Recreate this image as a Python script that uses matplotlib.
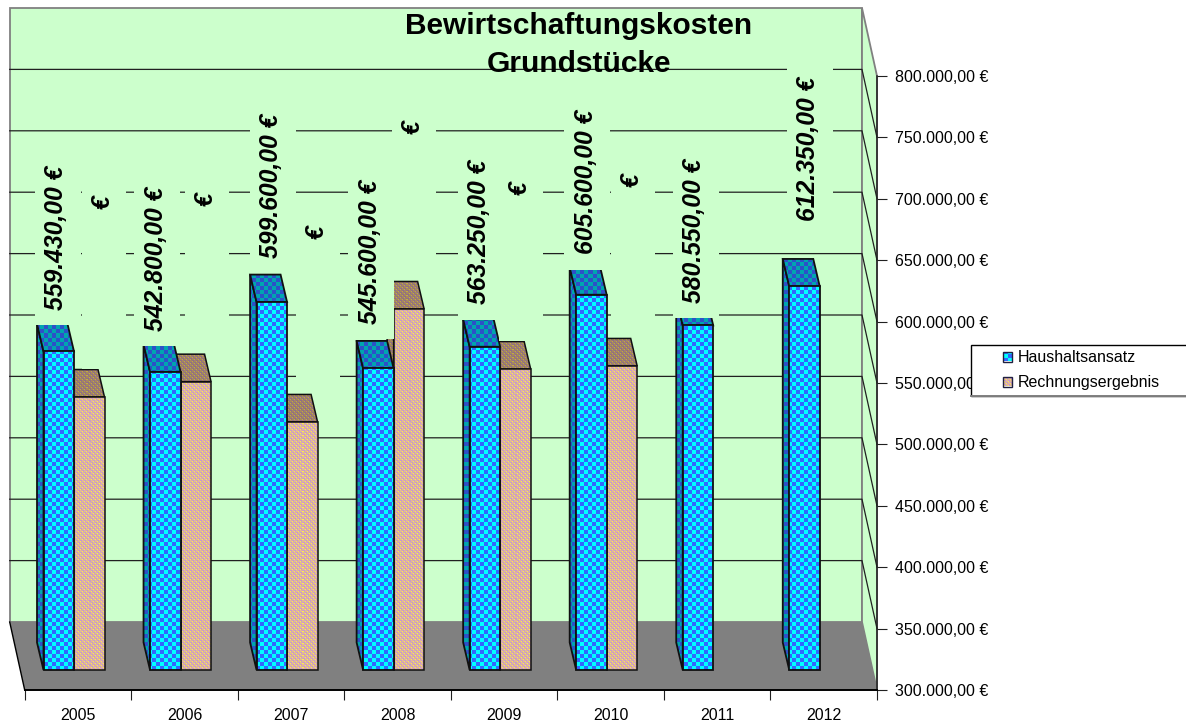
import numpy as np
import matplotlib
matplotlib.use("Agg")
import matplotlib.pyplot as plt
from matplotlib.patches import Polygon, Rectangle
from matplotlib.lines import Line2D
from matplotlib.ticker import FuncFormatter

plt.rcParams['font.family'] = ['Liberation Sans', 'DejaVu Sans']

# data
jahre = ['2005', '2006', '2007', '2008', '2009', '2010', '2011', '2012']
haushaltsansatz = [559430, 542800, 599600, 545600, 563250, 605600, 580550, 612350]
rechnungsergebnis = [522300, 534800, 502000, 594000, 545100, 547600]
y_ticks = [300000, 350000, 400000, 450000, 500000, 550000, 600000, 650000, 700000, 750000, 800000]
titel = 'Bewirtschaftungskosten\nGrundstücke'

# hand placed label offsets (pixels), the old chart put them rather unevenly
label_nudge_x = [-2.5, -9.5, -0.5, -8.5, -5.5, -5.5, -3.5, 3.5]
label_lift = [42, 42, 45, 45, 43, 41, 23, 66]
euro_nudge_x = [13.5, 9.5, 14.5, 3.5, 4.5, 9.5]
euro_lift = [195, 183, 190, 182, 181, 186]

W, H = 1186, 722
AX_L, AX_R, AX_T, AX_B = 24.7, 877.0, 76.0, 690.0

fig = plt.figure(figsize=(W / 100, H / 100), dpi=100, facecolor='white')
ax = fig.add_axes([AX_L / W, 1 - AX_B / H, (AX_R - AX_L) / W, (AX_B - AX_T) / H])
ax.patch.set_visible(False)

ux = (AX_R - AX_L) / len(jahre)       # pixels per category
uy = 500000 / (AX_B - AX_T)           # euro per pixel


def dx(p):
    return p / ux


def dy(p):
    return p * uy


WALL_DX, WALL_DY = -15, 68
GREEN = '#CCFFCC'
x_max = len(jahre)
y0, y1 = y_ticks[0], y_ticks[-1]

# back wall, side wall, floor
ax.add_patch(Polygon([(dx(WALL_DX), y0 + dy(WALL_DY)), (x_max + dx(WALL_DX), y0 + dy(WALL_DY)),
                      (x_max + dx(WALL_DX), y1 + dy(WALL_DY)), (dx(WALL_DX), y1 + dy(WALL_DY))],
                     fc=GREEN, ec='#808080', lw=1.3, zorder=1, clip_on=False))
ax.add_patch(Polygon([(x_max + dx(WALL_DX), y1 + dy(WALL_DY)), (x_max, y1), (x_max, y0),
                      (x_max + dx(WALL_DX), y0 + dy(WALL_DY))],
                     fc=GREEN, ec='#808080', lw=1.3, zorder=1, clip_on=False))
for v in y_ticks[1:-1]:
    ax.plot([dx(WALL_DX), x_max + dx(WALL_DX), x_max], [v + dy(WALL_DY), v + dy(WALL_DY), v],
            color='#202020', lw=0.9, zorder=2, clip_on=False)
ax.add_patch(Polygon([(0, y0), (x_max, y0), (x_max + dx(WALL_DX), y0 + dy(WALL_DY)),
                      (dx(WALL_DX), y0 + dy(WALL_DY))],
                     fc='#808080', ec='none', zorder=3, clip_on=False))
ax.plot([dx(WALL_DX), 0], [y0 + dy(WALL_DY), y0], color='black', lw=1, zorder=3, clip_on=False)

ax.set_xlim(0, x_max)
ax.set_ylim(y0, y1)


def checker(xs, ys, c1, c2):
    arr = np.zeros((len(ys), len(xs), 3), dtype=np.uint8)
    mask = ((xs[None, :] // 4 + ys[:, None] // 4) % 2) == 0
    arr[mask] = c1
    arr[~mask] = c2
    return arr


def dither(xs, ys, base, alt, dot):
    arr = np.zeros((len(ys), len(xs), 3), dtype=np.uint8)
    arr[:] = base
    arr[((xs[None, :] // 2 + ys[:, None] // 2) % 2) == 1] = alt
    hit = ((xs[None, :] % 4 == 0) & (ys[:, None] % 4 == 0)) | ((xs[None, :] % 4 == 2) & (ys[:, None] % 4 == 2))
    arr[hit] = dot
    return arr


PATTERNS = {
    'blue_front': lambda x, y: checker(x, y, (0, 255, 255), (51, 102, 255)),
    'blue_dark': lambda x, y: checker(x, y, (0, 165, 175), (45, 80, 200)),
    'pink_front': lambda x, y: dither(x, y, (203, 155, 200), (225, 185, 150), (255, 240, 70)),
    'pink_dark': lambda x, y: dither(x, y, (145, 110, 135), (165, 135, 95), (195, 175, 60)),
}


def face(points, pattern, z, lw):
    # one patterned face of a 3d bar, the image is clipped to the polygon
    pts = np.array(points)
    disp = ax.transData.transform(pts)
    x_a, x_b = int(np.floor(disp[:, 0].min())) - 1, int(np.ceil(disp[:, 0].max())) + 1
    y_a, y_b = int(np.floor(disp[:, 1].min())) - 1, int(np.ceil(disp[:, 1].max())) + 1
    xs = np.arange(x_a, x_b)
    ys = np.arange(y_b - 1, y_a - 1, -1)
    inv = ax.transData.inverted()
    (d0, e0), (d1, e1) = inv.transform([(x_a, y_a), (x_b, y_b)])
    im = ax.imshow(PATTERNS[pattern](xs, ys), extent=(d0, d1, e0, e1), aspect='auto',
                   interpolation='nearest', origin='upper', zorder=z)
    outline = Polygon(pts, fc='none', ec='#101010', lw=lw, zorder=z + 0.1)
    ax.add_patch(outline)
    im.set_clip_path(outline)


BAR_OFF, BAR_W = 18.8, 30.5
FLOOR_LIFT = 20
D_X, D_Y = -6.5, 27.5


def bar(i, value, slot, front, dark, z, lw):
    left = i + dx(BAR_OFF + slot * BAR_W)
    right = left + dx(BAR_W)
    base = y0 + dy(FLOOR_LIFT)
    top = value + dy(FLOOR_LIFT)
    sx, sy = dx(D_X), dy(D_Y)
    face([(left, base), (left + sx, base + sy), (left + sx, top + sy), (left, top)], dark, z, lw)
    face([(left, top), (left + sx, top + sy), (right + sx, top + sy), (right, top)], dark, z + 0.2, lw)
    face([(left, base), (right, base), (right, top), (left, top)], front, z + 0.4, lw)


# pink first, the blue bar sits over its side face
z = 4
for i, v in enumerate(rechnungsergebnis):
    bar(i, v, 1, 'pink_front', 'pink_dark', z, 1.1)
    z += 1
for i, v in enumerate(haushaltsansatz):
    bar(i, v, 0, 'blue_front', 'blue_dark', z, 1.3)
    z += 1


def eur(v, pos=None):
    return f"{v:,.2f} €".replace(',', 'X').replace('.', ',').replace('X', '.')


LABEL_FONT = dict(fontsize=17.8, fontweight='bold', fontstyle='italic', color='black', rotation=90,
                  ha='center', va='center', zorder=31, clip_on=False)
TEXT_LEN = 143

# data labels with wall coloured boxes, these hide grid and bar tops just like the original
for i, v in enumerate(haushaltsansatz):
    cx = i + dx(BAR_OFF + BAR_W / 2 + label_nudge_x[i])
    bottom = v + dy(FLOOR_LIFT + label_lift[i])
    ax.add_patch(Rectangle((cx + dx(1.5 - 23), bottom - dy(16)), dx(46), dy(16 + TEXT_LEN + 10),
                           fc=GREEN, ec='none', zorder=30, clip_on=False))
    ax.text(cx, bottom + dy(TEXT_LEN / 2), eur(v), **LABEL_FONT)

for i, v in enumerate(rechnungsergebnis):
    cx = i + dx(BAR_OFF + BAR_W * 1.5 + euro_nudge_x[i])
    mid = v + dy(FLOOR_LIFT + euro_lift[i])
    box_low = v + dy(FLOOR_LIFT + D_Y + 1)
    ax.add_patch(Rectangle((cx + dx(1.5 - 22), box_low), dx(44), mid + dy(18) - box_low,
                           fc=GREEN, ec='none', zorder=30.5, clip_on=False))
    ax.text(cx, mid, '€', **LABEL_FONT)

# axes
ax.yaxis.tick_right()
ax.set_yticks(y_ticks)
ax.yaxis.set_major_formatter(FuncFormatter(eur))
ax.set_xticks(range(x_max + 1))
ax.set_xticklabels([])
ax.tick_params(axis='both', length=7.2, width=0.8, color='#202020', labelsize=11.5, pad=5.5)
ax.set_xticks(np.arange(x_max) + 0.5, labels=jahre, minor=True)
ax.tick_params(axis='x', which='minor', length=0, labelsize=11.5, pad=13)
for s in ['left', 'top']:
    ax.spines[s].set_visible(False)
ax.spines['right'].set_linewidth(1.1)
ax.spines['right'].set_color('#202020')
ax.spines['right'].set_zorder(35)
ax.spines['bottom'].set_linewidth(1.4)
ax.spines['bottom'].set_zorder(35)

ax.set_xlim(0, x_max)
ax.set_ylim(y0, y1)

fig.text(579 / W, 1 - 45 / H, titel, ha='center', va='center', fontsize=21.5, fontweight='bold',
         linespacing=1.46, zorder=40)

# legend, hangs over the right edge of the picture
fig.patches.append(Rectangle((970.5 / W, 1 - 395.5 / H), 240 / W, 51 / H, transform=fig.transFigure,
                             fc='white', ec='black', lw=1, zorder=10, figure=fig))
fig.add_artist(Line2D([970.5 / W, 1], [1 - 395.5 / H, 1 - 395.5 / H], color='#808080', lw=1.4, zorder=11))
leg_names = ['Haushaltsansatz', 'Rechnungsergebnis']
leg_y = [357, 382]
leg_patterns = ['blue_front', 'pink_front']
for name, yy, pat in zip(leg_names, leg_y, leg_patterns):
    fig.figimage(PATTERNS[pat](np.arange(1003, 1012), np.arange(H - yy + 4, H - yy - 5, -1)),
                 xo=1003, yo=H - yy - 4, origin='upper', zorder=11)
    fig.patches.append(Rectangle((1002.5 / W, 1 - (yy + 4.5) / H), 9.5 / W, 9.5 / H,
                                 transform=fig.transFigure, fc='none', ec='#202040', lw=1,
                                 zorder=12, figure=fig))
    fig.text(1017.5 / W, 1 - yy / H, name, ha='left', va='center', fontsize=11.5, zorder=12)

fig.savefig('out.png', dpi=100)
